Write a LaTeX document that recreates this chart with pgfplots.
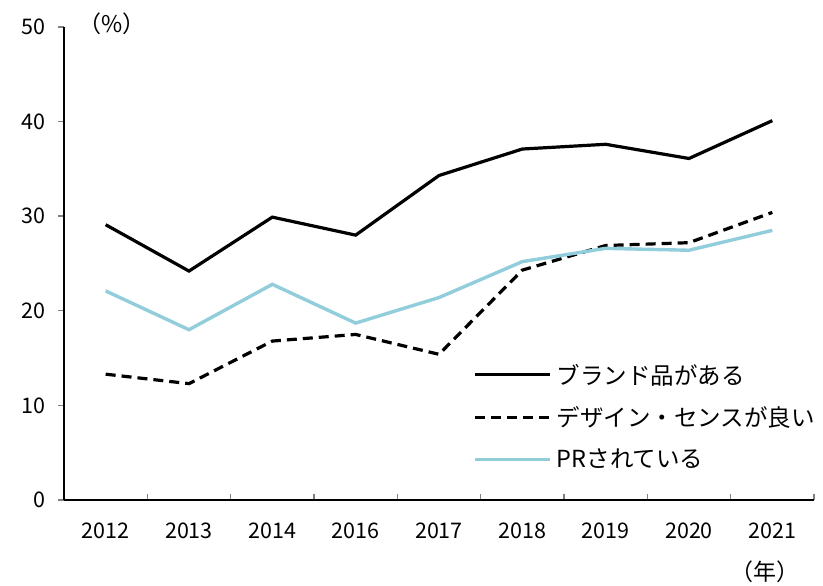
\documentclass[border=0pt]{standalone}
\usepackage{pgfplots}
\pgfplotsset{compat=1.18}
\usepackage{fontspec}
\setmainfont{Noto Sans CJK JP}
\definecolor{lblue}{RGB}{146,205,220}
\begin{document}
\begin{tikzpicture}[x=1pt,y=1pt]
\useasboundingbox (0,0) rectangle (823,586);
\begin{axis}[
  at={(64pt,86pt)}, anchor=south west,
  scale only axis, width=750pt, height=473pt,
  xmin=-0.5, xmax=8.5, ymin=0, ymax=50,
  axis x line*=bottom, axis y line*=left,
  axis line style={line width=1.6pt},
  xtick={0,...,8},
  xticklabels={2012,2013,2014,2016,2017,2018,2019,2020,2021},
  minor xtick={-0.5,0.5,...,8.5},
  major x tick style={draw=none},
  minor x tick style={line width=1.4pt},
  minor tick length=6pt,
  xtick align=inside,
  ytick={0,10,...,50},
  ytick align=outside,
  y tick style={line width=1.4pt},
  major tick length=6pt,
  tick label style={font=\fontsize{21.5}{25}\selectfont},
  /pgf/number format/assume math mode=true,
  xticklabel style={yshift=-19pt},
  yticklabel style={xshift=-9pt},
  clip=false,
  legend cell align=left,
  legend style={at={(axis cs:4.41,14.6)}, anchor=north west, draw=none, fill=none,
    font=\fontsize{23.5}{28}\selectfont, row sep=17pt, inner sep=0pt,
    /tikz/every odd column/.style={xshift=0pt}},
  legend image code/.code={\draw[#1] (0pt,0pt) -- (75pt,0pt);},
  legend style={nodes={inner xsep=5pt}},
]
\addplot[black, line width=3.2pt] coordinates {(0,29.1) (1,24.2) (2,29.9) (3,28.0) (4,34.3) (5,37.1) (6,37.6) (7,36.1) (8,40.1)};
\addlegendentry{ブランド品がある}
\addplot[black, line width=3.2pt, dash pattern=on 10pt off 6pt] coordinates {(0,13.3) (1,12.3) (2,16.8) (3,17.5) (4,15.4) (5,24.3) (6,26.9) (7,27.2) (8,30.4)};
\addlegendentry{デザイン・センスが良い}
\addplot[lblue, line width=3.4pt] coordinates {(0,22.1) (1,18.0) (2,22.8) (3,18.7) (4,21.4) (5,25.2) (6,26.6) (7,26.4) (8,28.5)};
\addlegendentry{PRされている}
\node[font=\fontsize{23}{27}\selectfont] at (axis cs:0.08,50.3) {（\%）};
\node[font=\fontsize{23}{27}\selectfont] at (axis cs:7.91,-7.6) {（年）};
\end{axis}
\end{tikzpicture}
\end{document}
